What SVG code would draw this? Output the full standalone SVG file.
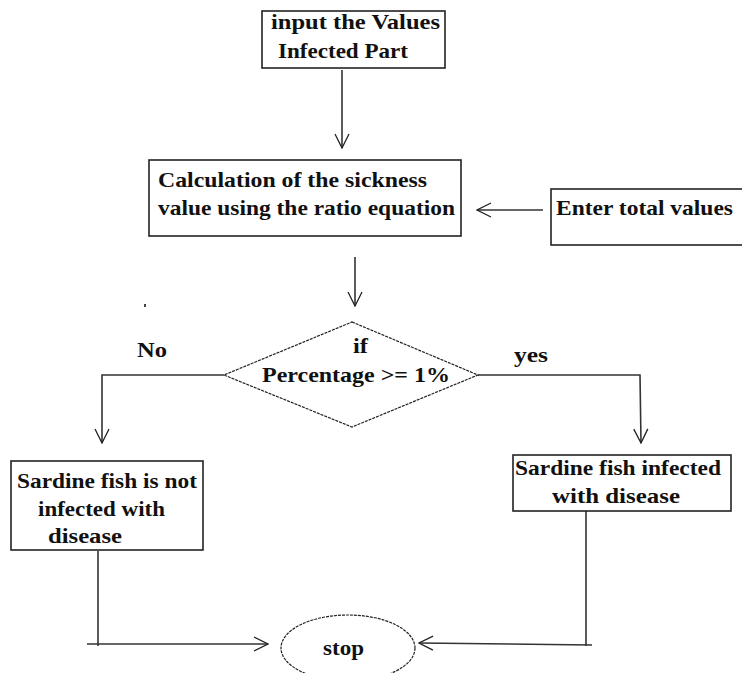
<svg xmlns="http://www.w3.org/2000/svg" width="742" height="673" viewBox="0 0 742 673">
<defs>
<marker id="arr" viewBox="0 0 16 16" refX="15" refY="8" markerWidth="16" markerHeight="16" markerUnits="userSpaceOnUse" orient="auto">
<path d="M1,1 L15,8 L1,15" fill="none" stroke="#222" stroke-width="1.3"/>
</marker>
</defs>
<style>
.box{fill:#fff;stroke:#222;stroke-width:1.6}
.dash{fill:#fff;stroke:#222;stroke-width:1.2;stroke-dasharray:3 1}
.t{font-family:"Liberation Serif","Times New Roman",serif;font-weight:bold;font-size:21px;fill:#111}
.c{fill:none;stroke:#333;stroke-width:1.6}
.ca{fill:none;stroke:#333;stroke-width:1.6;marker-end:url(#arr)}
</style>
<rect width="742" height="673" fill="#fff"/>
<g id="connectors">
<line class="ca" x1="342" y1="70" x2="342" y2="148"/>
<line class="ca" x1="543" y1="210" x2="477" y2="210"/>
<line class="ca" x1="355" y1="257" x2="355" y2="306"/>
<polyline class="ca" points="224,375 102,375 102,443"/>
<polyline class="ca" points="478,375 640,375 641,443"/>
<line class="c" x1="98" y1="551" x2="98" y2="646"/>
<line class="ca" x1="87" y1="644" x2="268" y2="644"/>
<line class="c" x1="586" y1="511" x2="586" y2="646"/>
<line class="ca" x1="592" y1="645" x2="419" y2="643"/>
<rect x="144" y="304" width="2" height="3" fill="#444"/>
</g>
<g id="input">
<rect class="box" x="262" y="11" width="183" height="57"/>
<text class="t" x="271" y="29" textLength="169" lengthAdjust="spacingAndGlyphs">input the  Values</text>
<text class="t" x="278" y="58" textLength="130" lengthAdjust="spacingAndGlyphs">Infected Part</text>
</g>
<g id="calc">
<rect class="box" x="149" y="160" width="312" height="76"/>
<text class="t" x="158" y="187" textLength="269" lengthAdjust="spacingAndGlyphs">Calculation of the sickness</text>
<text class="t" x="158" y="215" textLength="297" lengthAdjust="spacingAndGlyphs">value using the ratio equation</text>
</g>
<g id="total">
<rect class="box" x="551" y="189" width="200" height="56"/>
<text class="t" x="556" y="215" textLength="177" lengthAdjust="spacingAndGlyphs">Enter total values</text>
</g>
<g id="decision">
<polygon class="dash" points="352,322 478,375 352,427 224,375"/>
<text class="t" x="353" y="353" textLength="15" lengthAdjust="spacingAndGlyphs">if</text>
<text class="t" x="262" y="382" textLength="188" lengthAdjust="spacingAndGlyphs">Percentage &gt;= 1%</text>
</g>
<g id="labels">
<text class="t" x="137" y="357" textLength="30" lengthAdjust="spacingAndGlyphs">No</text>
<text class="t" x="514" y="362" textLength="34" lengthAdjust="spacingAndGlyphs">yes</text>
</g>
<g id="notinfected">
<rect class="box" x="11" y="461" width="192" height="89"/>
<text class="t" x="17" y="488" textLength="180" lengthAdjust="spacingAndGlyphs">Sardine fish is not</text>
<text class="t" x="38" y="516" textLength="127" lengthAdjust="spacingAndGlyphs">infected with</text>
<text class="t" x="48" y="543" textLength="74" lengthAdjust="spacingAndGlyphs">disease</text>
</g>
<g id="infected">
<rect class="box" x="513" y="455" width="218" height="56"/>
<text class="t" x="515" y="475" textLength="206" lengthAdjust="spacingAndGlyphs">Sardine fish infected</text>
<text class="t" x="552" y="503" textLength="128" lengthAdjust="spacingAndGlyphs">with  disease</text>
</g>
<g id="stop">
<ellipse class="dash" cx="348" cy="648" rx="67" ry="33"/>
<text class="t" x="323" y="655" textLength="41" lengthAdjust="spacingAndGlyphs">stop</text>
</g>
</svg>
